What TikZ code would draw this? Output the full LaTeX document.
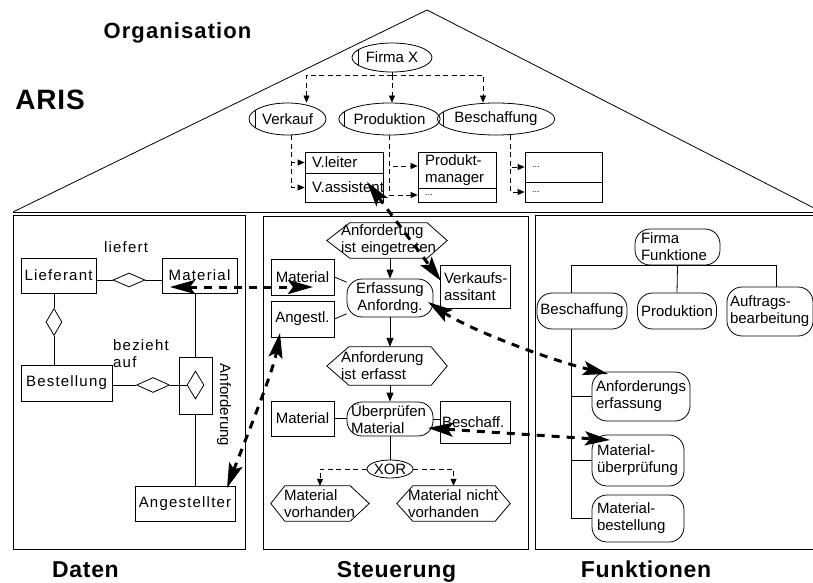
\documentclass[tikz,border=0pt]{standalone}
\usepackage{fontspec}
\setmainfont{Liberation Sans}
\newfontfamily\widesans{Liberation Sans}[LetterSpace=8]
\newfontfamily\orgtitle{Liberation Sans}[LetterSpace=5]
\newfontfamily\viewtitle{Liberation Sans}[LetterSpace=3]
\usetikzlibrary{arrows.meta,shapes.geometric,calc}

% hexagonal event frame around a (frameless) node: #1 name, #2 left depth, #3 right depth
\newcommand{\evtframe}[3]{%
  \draw[link] (#1.west) -- ([xshift=#2]#1.north west) -- ([xshift=-#3]#1.north east)
    -- (#1.east) -- ([xshift=-#3]#1.south east) -- ([xshift=#2]#1.south west) -- cycle;}
% one unbreakable text line
\newcommand{\oneline}[1]{\mbox{#1}}

\begin{document}
\begin{tikzpicture}[x=1pt,y=-1pt,
  txt/.style={font=\fontsize{15}{17}\selectfont},
  wtxt/.style={font=\fontsize{15}{17}\selectfont\widesans},
  link/.style={line width=0.8pt},
  box/.style={txt, draw, line width=0.8pt, rectangle, inner sep=0pt, align=center},
  wbox/.style={box, wtxt},
  lbox/.style={box, align=left, inner xsep=7pt},
  stad/.style={box, rounded corners=15pt},
  lstad/.style={stad, align=left},
  evt/.style={txt, inner sep=0pt, align=left},
  orgunit/.style={txt, ellipse, draw, line width=0.8pt, inner sep=0pt,
    path picture={\draw[line width=0.8pt]
      ([xshift=6pt]path picture bounding box.north west) --
      ([xshift=6pt]path picture bounding box.south west);}},
  rel/.style={diamond, draw, line width=0.8pt, inner sep=0pt},
  flow/.style={link, -{Triangle[length=9pt,width=7pt]}},
  orgflow/.style={link, dash pattern=on 5pt off 3.5pt, -{Triangle[length=7pt,width=6pt]}},
  orgline/.style={link, dash pattern=on 5pt off 3.5pt},
  bigdash/.style={line width=3pt, dash pattern=on 8pt off 7pt,
    {Stealth[length=25pt,width=14pt,inset=5pt]}-{Stealth[length=25pt,width=14pt,inset=5pt]}},
  title/.style={font=\fontsize{23}{26}\selectfont\viewtitle\bfseries, inner sep=0pt, anchor=base},
  dots/.style={font=\fontsize{9}{10}\selectfont}
]
\useasboundingbox (0,0) rectangle (813,583);

% ---------- house frame ----------
\draw[link] (13,212) -- (427,10) -- (813,207.5);
\draw[link] (13,212) -- (813,212);
\draw[link] (13,215) rectangle (245,549);
\draw[link] (263,216) rectangle (528,549);
\draw[link] (813,215) -- (535,215) -- (535,549) -- (813,549);

% ---------- titles ----------
\node[title, font=\fontsize{28}{32}\selectfont\viewtitle\bfseries] (tAris) at (50,110) {ARIS};
\node[title, font=\fontsize{22}{26}\selectfont\orgtitle\bfseries] (tOrg) at (177.5,39) {Organisation};
\node[title] (tDaten) at (85.5,577) {Daten};
\node[title] (tSteu) at (396.5,577) {Steuerung};
\node[title] (tFunk) at (646,577) {Funktionen};

% ---------- organisation ----------
\node[orgunit, minimum width=80pt, minimum height=29pt] (firma) at (392,57.5) {Firma X};
\node[orgunit, minimum width=77pt, minimum height=32pt] (verkauf) at (287.5,119) {Verkauf};
\node[orgunit, minimum width=95pt, minimum height=32pt] (produktion) at (389.5,119) {Produktion};
\node[orgunit, minimum width=98pt, minimum height=32pt] (beschorg) at (496,119) {Beschaffung};

\node[lbox, minimum width=78pt, minimum height=21pt, text width=64pt] (vleiter) at (344,162.5) {\oneline{V.leiter}};
\node[lbox, minimum width=78pt, minimum height=29pt, text width=64pt] (vassist) at (344,187.5) {\oneline{V.assistent}};
\node[lbox, minimum width=78pt, minimum height=36pt, text width=64pt] (pm) at (457,170) {\oneline{Produkt-}\\\oneline{manager}};
\node[lbox, dots, minimum width=78pt, minimum height=14pt, text width=64pt] (pmx) at (457,195) {...};
\node[lbox, dots, minimum width=77pt, minimum height=30pt, text width=63pt] (xa) at (563.5,167) {...};
\node[lbox, dots, minimum width=77pt, minimum height=20pt, text width=63pt] (xb) at (563.5,192) {...};

\coordinate (obus) at (0,75);
\draw[orgline] (firma.south) -- (firma.south |- obus);
\draw[orgflow] (firma.south |- obus) -| ([xshift=19pt]verkauf.north);
\draw[orgflow] (firma.south |- obus) -- (firma.south |- produktion.north);
\draw[orgflow] (firma.south |- obus) -| ([xshift=-13pt]beschorg.north);

\draw[orgflow] ([xshift=4pt]verkauf.south) |- (vleiter.west);
\draw[orgflow] ([xshift=4pt]verkauf.south) |- (vassist.west);
\draw[orgflow] (produktion.south) |- ([yshift=4pt]pm.west);
\draw[orgflow] (produktion.south) |- (pmx.west);
\draw[orgflow] ([xshift=14pt]beschorg.south) |- (xa.west);
\draw[orgflow] ([xshift=14pt]beschorg.south) |- (xb.west);

% ---------- Daten ----------
\node[wbox, minimum width=75pt, minimum height=35pt] (lief) at (58.5,275.5) {Lieferant};
\node[wbox, minimum width=75pt, minimum height=35pt] (matD) at (199.5,275.5) {Material};
\node[rel, minimum width=32pt, minimum height=14pt] (r1) at (129,280) {};
\node[wtxt, inner sep=0pt] (liefert) at (126,247) {liefert};
\node[rel, minimum width=16pt, minimum height=27pt] (r2) at (54,322) {};
\node[wbox, minimum width=91pt, minimum height=36pt] (best) at (66.5,383) {Bestellung};
\node[wtxt, inner sep=0pt, align=left, anchor=north west] (bez) at (113,339) {bezieht\\auf};
\node[rel, minimum width=33pt, minimum height=15pt] (r3) at (153,385) {};
\node[box, minimum width=33pt, minimum height=57pt] (anfbox) at (195.5,385.5) {};
\node[rel, minimum width=17pt, minimum height=28pt] (r4) at (195.5,385) {};
\node[txt, inner sep=0pt, rotate=-90] (anflbl) at (224,405) {Anforderung};
\node[wbox, minimum width=100pt, minimum height=35pt] (angD) at (185,503.5) {Angestellter};

\draw[link] (lief.east |- r1.west) -- (r1.west);
\draw[link] (r1.east) -- (matD.west |- r1.east);
\draw[link] (r2.north |- lief.south) -- (r2.north);
\draw[link] (r2.south) -- (r2.south |- best.north);
\draw[link] (best.east |- r3.west) -- (r3.west);
\draw[link] (r3.east) -- (r4.west);
\draw[link] (anfbox.north |- matD.south) -- (anfbox.north);
\draw[link] (anfbox.south) -- (anfbox.south |- angD.north);

% ---------- Steuerung ----------
\node[evt, minimum width=120pt, minimum height=35pt, text width=92pt, inner xsep=14pt] (ev1) at (387,240.5) {\oneline{Anforderung}\\\oneline{ist eingetreten}};
\evtframe{ev1}{23pt}{20pt}
\node[stad, minimum width=86pt, minimum height=38pt] (erf) at (390,298) {Erfassung\\Anfordng.};
\node[box, minimum width=63pt, minimum height=36pt] (matS1) at (302.5,277) {Material};
\node[box, minimum width=63pt, minimum height=36pt] (angS) at (302.5,319) {Angestl.};
\node[lbox, minimum width=70pt, minimum height=43pt, text width=62pt, inner xsep=4pt] (verk) at (475,286.5) {\oneline{Verkaufs-}\\\oneline{assitant}};
\node[evt, minimum width=120pt, minimum height=38pt, text width=92pt, inner xsep=14pt] (ev2) at (387,366) {\oneline{Anforderung}\\\oneline{ist erfasst}};
\evtframe{ev2}{22pt}{16pt}
\node[lstad, minimum width=86pt, minimum height=34pt, text width=78pt, inner xsep=4pt] (pruef) at (390,419) {\oneline{Überprüfen}\\\oneline{Material}};
\node[box, minimum width=63pt, minimum height=35pt] (matS2) at (302.5,418.5) {Material};
\node[lbox, minimum width=70pt, minimum height=42pt, text width=66pt, inner xsep=2pt] (besch) at (475,422) {\oneline{Beschaff.}};
\node[txt, ellipse, draw, line width=0.8pt, inner sep=0pt, minimum width=43pt, minimum height=18pt] (xor) at (390,469) {XOR};
\node[evt, minimum width=98pt, minimum height=35pt, text width=72pt, inner xsep=13pt] (ev3) at (320,503.5) {\oneline{Material}\\\oneline{vorhanden}};
\evtframe{ev3}{14pt}{19pt}
\node[evt, minimum width=113pt, minimum height=35pt, text width=91pt, inner xsep=11pt] (ev4) at (453.5,503.5) {\oneline{Material nicht}\\\oneline{vorhanden}};
\evtframe{ev4}{16pt}{15pt}

\draw[flow] (erf.north |- ev1.south) -- (erf.north);
\draw[flow] (erf.south) -- (erf.south |- ev2.north);
\draw[flow] (pruef.north |- ev2.south) -- (pruef.north);
\draw[link] (matS1.east) -- (erf.160);
\draw[link] (angS.east) -- (erf.200);
\draw[link] (matS2.east) -- (pruef.west |- matS2.east);
\draw[link] (pruef.east) -- (besch.west |- pruef.east);
\draw[link] (pruef.south) -- (xor.north);
\draw[orgflow] (xor.west) -| (ev3.north);
\draw[orgflow] (xor.east) -| (ev4.north);

% ---------- Funktionen ----------
\node[lstad, minimum width=85pt, minimum height=36pt, text width=73pt, inner xsep=6pt] (ff) at (677.5,247) {\oneline{Firma}\\\oneline{Funktione}};
\node[stad, minimum width=90pt, minimum height=36pt] (fb) at (582,311) {Beschaffung};
\node[stad, minimum width=79pt, minimum height=36pt] (fp) at (677,311) {Produktion};
\node[lstad, minimum width=86pt, minimum height=49pt, text width=80pt, inner xsep=3pt] (fa) at (770,311.5) {\oneline{Auftrags-}\\\oneline{bearbeitung}};
\node[lstad, minimum width=98pt, minimum height=49pt, text width=90pt, inner xsep=4pt] (fae) at (641,396.5) {\oneline{Anforderungs}\\\oneline{erfassung}};
\node[lstad, minimum width=92pt, minimum height=51pt, text width=82pt, inner xsep=5pt] (fmu) at (638,460.5) {\oneline{Material-}\\\oneline{überprüfung}};
\node[lstad, minimum width=92pt, minimum height=47pt, text width=82pt, inner xsep=5pt] (fmb) at (638,518.5) {\oneline{Material-}\\\oneline{bestellung}};

\draw[link] (ff.south) -- (fp.north);
\draw[link] ([xshift=-11pt]fb.north) |- ([xshift=6pt]fa.north |- ff.south) -- ([xshift=6pt]fa.north);
\draw[link] ([xshift=-11pt]fb.south) |- (fae.west);
\draw[link] ([xshift=-11pt]fb.south) |- (fmu.west);
\draw[link] ([xshift=-11pt]fb.south) |- (fmb.west);

% ---------- cross-view links ----------
\draw[bigdash] ($(matD.center)+(-29.5,11.5)$) -- ($(matS1.center)+(10.5,10)$);
\draw[bigdash] ($(angD.center)+(42,-15.5)$) .. controls ($(angD.center)+(58,-58)$) and ($(angS.center)+(-30,55)$) .. ($(angS.center)+(-22.5,14)$);
\draw[bigdash] ($(vassist.center)+(23,-5.5)$) -- ($(verk.center)+(-34,-5.5)$);
\draw[bigdash] ($(erf.center)+(38,4)$) .. controls ($(erf.center)+(80,32)$) and ($(fae.center)+(-91,-36.5)$) .. ($(fae.center)+(-33,-22.5)$);
\draw[bigdash] ($(pruef.center)+(38,9)$) -- ($(fmu.center)+(-28,-20.5)$);
\end{tikzpicture}
\end{document}
